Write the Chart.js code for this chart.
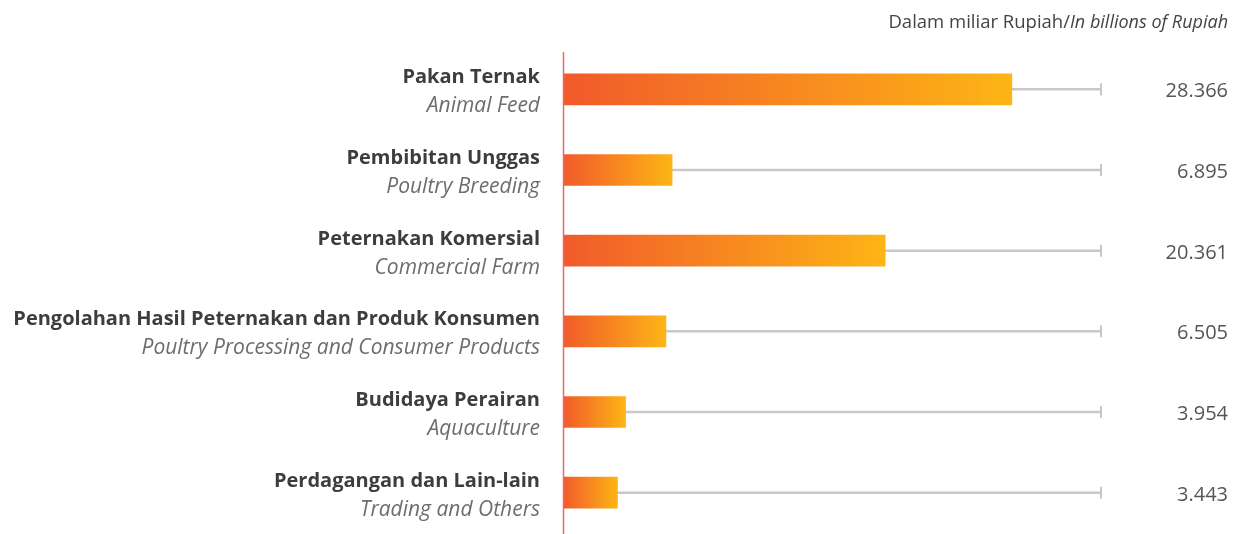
<!DOCTYPE html>
<html>
<head>
<meta charset="utf-8">
<script src="https://cdn.jsdelivr.net/npm/chart.js@4.4.0/dist/chart.umd.min.js"></script>
<style>
  html, body { margin: 0; padding: 0; background: #fff; }
  #wrap { width: 1238px; height: 534px; position: relative; }
</style>
</head>
<body>
<div id="wrap"><canvas id="sektorChart"></canvas></div>
<script>
// Data sektor
const kategori = ['Pakan Ternak', 'Pembibitan Unggas', 'Peternakan Komersial',
  'Pengolahan Hasil Peternakan dan Produk Konsumen', 'Budidaya Perairan', 'Perdagangan dan Lain-lain'];
const kategoriEn = ['Animal Feed', 'Poultry Breeding', 'Commercial Farm',
  'Poultry Processing and Consumer Products', 'Aquaculture', 'Trading and Others'];
const nilai = [28366, 6895, 20361, 6505, 3954, 3443];
const labelNilai = ['28.366', '6.895', '20.361', '6.505', '3.954', '3.443'];
const skalaMaks = 34000;

const FONT = '"Open Sans", "Noto Sans", sans-serif';

// Gradien oranye ke kuning untuk tiap batang
function warnaBatang(context) {
  const chart = context.chart;
  const x = chart.scales.x;
  if (!x || context.raw === undefined) return '#F37021';
  const x0 = x.getPixelForValue(0);
  const x1 = x.getPixelForValue(context.raw);
  if (!isFinite(x0) || !isFinite(x1) || x1 === x0) return '#F37021';
  const g = chart.ctx.createLinearGradient(x0, 0, x1, 0);
  g.addColorStop(0, '#F15A2B');
  g.addColorStop(1, '#FDB515');
  return g;
}

// Plugin untuk garis abu-abu, sumbu merah dan teks
const dekorasi = {
  id: 'dekorasi',
  beforeDatasetsDraw(chart) {
    const ctx = chart.ctx;
    const x = chart.scales.x, y = chart.scales.y;
    const x0 = x.getPixelForValue(0);
    const xEnd = x.getPixelForValue(skalaMaks);
    ctx.save();
    ctx.strokeStyle = '#c8c8c8';
    ctx.lineWidth = 2.5;
    for (let i = 0; i < kategori.length; i++) {
      const yc = y.getPixelForValue(i);
      ctx.beginPath();
      ctx.moveTo(x0, yc);
      ctx.lineTo(xEnd, yc);
      ctx.stroke();
      ctx.fillStyle = '#c8c8c8';
      ctx.fillRect(xEnd - 1, yc - 6, 2, 12);
    }
    ctx.restore();
  },
  afterDatasetsDraw(chart) {
    const ctx = chart.ctx;
    const x = chart.scales.x, y = chart.scales.y;
    const x0 = x.getPixelForValue(0);
    ctx.save();
    // sumbu merah
    ctx.strokeStyle = '#e8696a';
    ctx.lineWidth = 1.5;
    ctx.beginPath();
    ctx.moveTo(x0 + 0.5, 52);
    ctx.lineTo(x0 + 0.5, 534);
    ctx.stroke();

    // label kategori
    ctx.textAlign = 'right';
    ctx.textBaseline = 'alphabetic';
    for (let i = 0; i < kategori.length; i++) {
      const yc = y.getPixelForValue(i);
      ctx.fillStyle = '#3d3d3d';
      ctx.font = 'bold 20px ' + FONT;
      ctx.fillText(kategori[i], 540, yc - 6);
      ctx.fillStyle = '#6d6d6d';
      ctx.font = 'italic 21px ' + FONT;
      ctx.fillText(kategoriEn[i], 540, yc + 23);
    }

    // nilai
    ctx.fillStyle = '#555555';
    ctx.font = '20px ' + FONT;
    for (let i = 0; i < labelNilai.length; i++) {
      const yc = y.getPixelForValue(i);
      ctx.fillText(labelNilai[i], 1228, yc + 8);
    }

    // satuan
    ctx.font = 'italic 18px ' + FONT;
    ctx.fillStyle = '#444444';
    const teksMiring = 'In billions of Rupiah';
    const lebarMiring = ctx.measureText(teksMiring).width;
    ctx.fillText(teksMiring, 1228, 28);
    ctx.font = '18.5px ' + FONT;
    ctx.fillText('Dalam miliar Rupiah/', 1228 - lebarMiring, 28);
    ctx.restore();
  }
};

document.addEventListener('DOMContentLoaded', function() {
  const ctx = document.getElementById('sektorChart').getContext('2d');
  new Chart(ctx, {
    type: 'bar',
    data: {
      labels: kategori,
      datasets: [{
        data: nilai,
        backgroundColor: warnaBatang,
        borderWidth: 0,
        borderSkipped: false,
        barThickness: 31
      }]
    },
    options: {
      indexAxis: 'y',
      responsive: true,
      maintainAspectRatio: false,
      animation: false,
      layout: { padding: { left: 563, right: 137, top: 49, bottom: 1 } },
      plugins: { legend: { display: false }, tooltip: { enabled: false } },
      scales: {
        x: { display: false, min: 0, max: skalaMaks },
        y: { display: false }
      }
    },
    plugins: [dekorasi]
  });
});
</script>
</body>
</html>
